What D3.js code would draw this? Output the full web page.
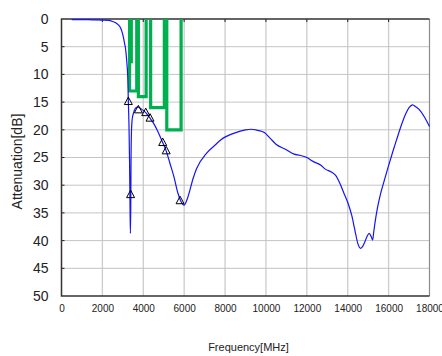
<!DOCTYPE html>
<html>
<head>
<meta charset="utf-8">
<script src="https://cdn.jsdelivr.net/npm/d3@7"></script>
<style>
	body { margin: 0; background: #fff; }
	svg { display: block; font-family: 'Liberation Sans', Arial, sans-serif; }
</style>
</head>
<body>
<svg id="chart" width="442" height="356"></svg>
<script>
// measured response
const freq = [500, 1000, 1500, 2000, 2300, 2500, 2700, 2860, 2950, 3020, 3080, 3140, 3200, 3240, 3270, 3300, 3330, 3350, 3370, 3390, 3400, 3420, 3460, 3520, 3600, 3700, 3760, 3850, 4000, 4120, 4330, 4500, 4700, 4950, 5120, 5300, 5500, 5700, 5850, 6000, 6150, 6445, 6610, 7100, 7500, 7800, 8450, 9000, 9270, 9600, 9920, 10200, 10490, 11000, 11380, 11660, 12000, 12300, 12690, 12900, 13200, 13400, 13620, 13800, 14020, 14200, 14350, 14500, 14630, 14740, 14840, 14950, 15050, 15150, 15220, 15270, 15330, 15450, 15570, 15800, 15980, 16200, 16390, 16600, 16850, 17000, 17170, 17350, 17580, 17800, 18000];
const atten = [0.1, 0.1, 0.15, 0.2, 0.25, 0.45, 0.8, 1.4, 2.2, 3.2, 4.3, 5.6, 8, 10.4, 14.9, 19, 26, 33, 38.7, 33, 26, 20.6, 18, 17, 16.2, 15.9, 15.9, 16.1, 16.5, 16.9, 17.9, 18.8, 20.2, 22.3, 23.8, 26, 28.5, 31.5, 33, 33.6, 32.5, 28.7, 27, 24.2, 22.8, 21.8, 20.6, 20, 19.9, 20.1, 20.5, 21.5, 22.6, 23.6, 24.4, 24.6, 25, 25.7, 26.4, 27.1, 27.6, 28.2, 29.7, 31.3, 33.3, 35.5, 38.1, 40.6, 41.4, 41, 40.2, 39.2, 38.7, 39.3, 39.9, 38.5, 36.9, 34.2, 32.1, 29, 26.7, 24, 21.8, 19.4, 17, 16, 15.5, 15.9, 16.7, 18, 19.4];

// triangle markers
const markFreq = [3270, 3380, 3760, 4120, 4330, 4950, 5120, 5800];
const markAtten = [14.9, 31.7, 16.4, 16.9, 17.9, 22.3, 23.8, 32.8];

// spec mask: start, end, depth
const maskStart = [3330, 3760, 4360, 5150];
const maskEnd = [3680, 4140, 5030, 5850];
const maskDepth = [13, 14, 16, 20];

const xTicks = [0, 2000, 4000, 6000, 8000, 10000, 12000, 14000, 16000, 18000];
const yTicks = [0, 5, 10, 15, 20, 25, 30, 35, 40, 45, 50];

const svg = d3.select('#chart');
const pl = 61.5, pr = 429.5, pt = 19, pb = 296;

const x = d3.scaleLinear().domain([0, 18000]).range([pl, pr]);
const y = d3.scaleLinear().domain([0, 50]).range([pt, pb]);

// grid
svg.append('g')
	.selectAll('line')
	.data(xTicks.slice(1, -1))
	.enter().append('line')
		.attr('x1', d => x(d)).attr('x2', d => x(d))
		.attr('y1', pt).attr('y2', pb)
		.attr('stroke', '#cccccc').attr('stroke-width', 1.3);
svg.append('g')
	.selectAll('line')
	.data(yTicks.slice(1, -1))
	.enter().append('line')
		.attr('x1', pl).attr('x2', pr)
		.attr('y1', d => y(d)).attr('y2', d => y(d))
		.attr('stroke', '#c4c4c4').attr('stroke-width', 1);

// axes
const xAxis = d3.axisBottom(x).tickValues(xTicks).tickFormat(d3.format('d')).tickSize(0).tickPadding(9);
const gx = svg.append('g').attr('transform', `translate(0,${pb})`).call(xAxis);
gx.select('.domain').remove();
gx.selectAll('text').attr('font-size', 10).attr('fill', '#222').attr('font-family', 'Liberation Sans, Arial, sans-serif');

const yAxis = d3.axisLeft(y).tickValues(yTicks).tickFormat(d3.format('d')).tickSize(0).tickPadding(13);
const gy = svg.append('g').attr('transform', `translate(${pl},0)`).call(yAxis);
gy.select('.domain').remove();
gy.selectAll('text').attr('font-size', 14).attr('fill', '#222').attr('font-family', 'Liberation Sans, Arial, sans-serif');

// inner tick marks
svg.append('g')
	.selectAll('line')
	.data(xTicks.slice(1, -1))
	.enter().append('line')
		.attr('x1', d => x(d)).attr('x2', d => x(d))
		.attr('y1', pt).attr('y2', pt + 3)
		.attr('stroke', '#222');
svg.append('g')
	.selectAll('line')
	.data(yTicks.slice(1, -1))
	.enter().append('line')
		.attr('x1', pl).attr('x2', pl + 3)
		.attr('y1', d => y(d)).attr('y2', d => y(d))
		.attr('stroke', '#222');

// frame
svg.append('line').attr('x1', pr).attr('x2', pr).attr('y1', pt).attr('y2', pb)
	.attr('stroke', '#8a8a8a').attr('stroke-width', 1.2);
svg.append('path')
	.attr('d', `M${pr},${pt}H${pl}V${pb}H${pr}`)
	.attr('fill', 'none').attr('stroke', '#333').attr('stroke-width', 1.5);

// mask
const maskLine = d3.line().x(d => x(d[0])).y(d => y(d[1]));
svg.append('g')
	.selectAll('path')
	.data(maskStart.map((s, i) => [[s, 0], [s, maskDepth[i]], [maskEnd[i], maskDepth[i]], [maskEnd[i], 0]]))
	.enter().append('path')
		.attr('d', maskLine)
		.attr('fill', 'none')
		.attr('stroke', '#00b04f')
		.attr('stroke-width', 3.2);
svg.append('path')
	.attr('d', maskLine([[3420, 0], [3420, 8]]))
	.attr('stroke', '#00b04f').attr('stroke-width', 3);

// response curve
const curve = d3.line()
	.x(d => x(d[0]))
	.y(d => y(d[1]))
	.curve(d3.curveMonotoneX);
svg.append('path')
	.datum(freq.map((f, i) => [f, atten[i]]))
	.attr('d', curve)
	.attr('fill', 'none')
	.attr('stroke', '#1414f5')
	.attr('stroke-width', 1.2);

// markers
svg.append('g')
	.selectAll('path')
	.data(markFreq.map((f, i) => [f, markAtten[i]]))
	.enter().append('path')
		.attr('transform', d => `translate(${x(d[0])},${y(d[1])})`)
		.attr('d', 'M0,-4.5L4,3L-4,3Z')
		.attr('fill', 'none')
		.attr('stroke', '#000')
		.attr('stroke-width', 1);

// titles
svg.append('text')
	.attr('x', (pl + pr) / 2 + 3).attr('y', 351)
	.attr('text-anchor', 'middle')
	.attr('font-size', 11).attr('fill', '#222')
	.text('Frequency[MHz]');
svg.append('text')
	.attr('transform', `translate(21.5,${(pt + pb) / 2 + 4}) rotate(-90)`)
	.attr('text-anchor', 'middle')
	.attr('font-size', 14).attr('fill', '#222')
	.text('Attenuation[dB]');
</script>
</body>
</html>
